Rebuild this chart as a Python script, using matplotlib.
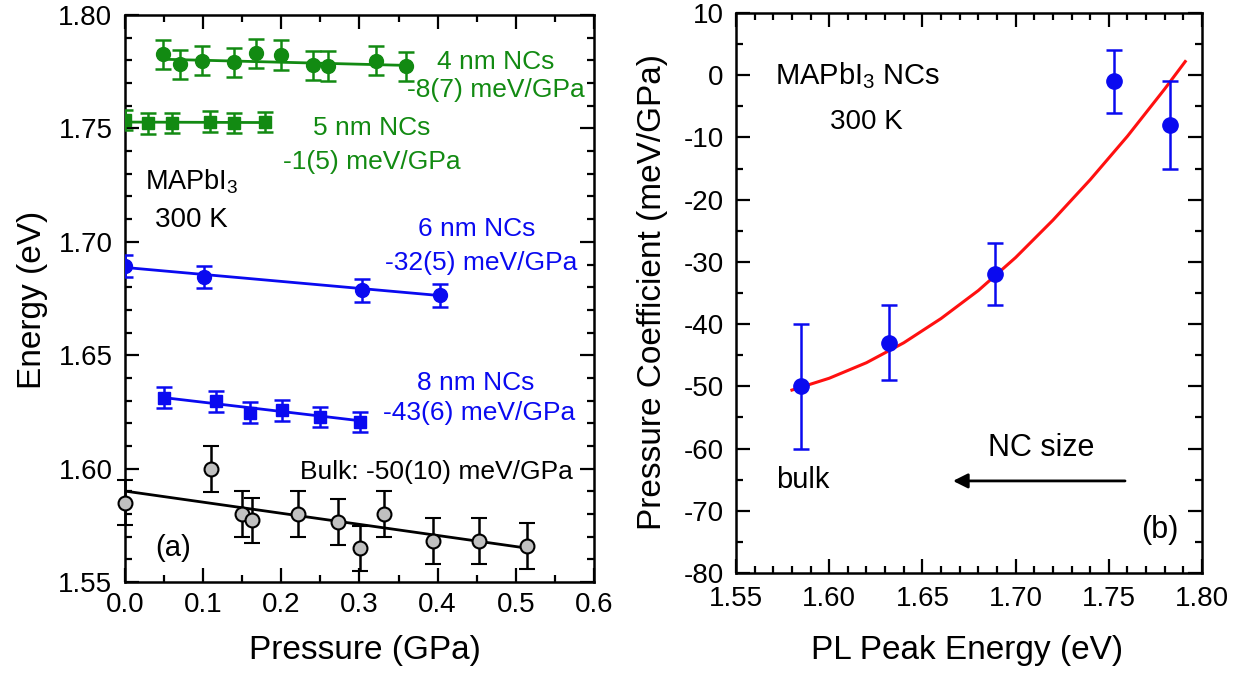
import numpy as np
import matplotlib
matplotlib.use("Agg")
import matplotlib.pyplot as plt
from matplotlib.ticker import MultipleLocator

plt.rcParams['font.family'] = ['Liberation Sans', 'DejaVu Sans']
plt.rcParams['mathtext.fontset'] = 'custom'
plt.rcParams['mathtext.rm'] = 'Liberation Sans'

GREEN = '#128a12'
BLUE = '#0a0af0'
RED = '#ff1010'

# ---- panel (a): PL energy vs pressure ----
p_4nm = [0.049, 0.070, 0.099, 0.140, 0.168, 0.200, 0.240, 0.260, 0.321, 0.359]
e_4nm = [1.7827, 1.7783, 1.7799, 1.7791, 1.7831, 1.7824, 1.7778, 1.7776, 1.7799, 1.7774]
err_4nm = [0.0065] * 10
fit_4nm_p = [0.049, 0.359]
fit_4nm_e = [1.7805, 1.7778]

p_5nm = [0.0, 0.030, 0.060, 0.109, 0.140, 0.179]
e_5nm = [1.7537, 1.7522, 1.7523, 1.7530, 1.7523, 1.7528]
err_5nm = [0.0045] * 6
fit_5nm_p = [0.0, 0.179]
fit_5nm_e = [1.7528, 1.7526]

p_6nm = [0.0, 0.101, 0.303, 0.403]
e_6nm = [1.6893, 1.6845, 1.6786, 1.6764]
err_6nm = [0.005] * 4
fit_6nm_p = [0.0, 0.403]
fit_6nm_e = [1.6887, 1.6763]

p_8nm = [0.050, 0.117, 0.160, 0.201, 0.250, 0.301]
e_8nm = [1.6313, 1.6296, 1.6247, 1.6257, 1.6228, 1.6206]
err_8nm = [0.0045] * 6
fit_8nm_p = [0.050, 0.301]
fit_8nm_e = [1.6313, 1.6211]

p_bulk = [0.0, 0.110, 0.150, 0.162, 0.221, 0.272, 0.301, 0.332, 0.394, 0.453, 0.515]
e_bulk = [1.5850, 1.5998, 1.5800, 1.5772, 1.5800, 1.5764, 1.5649, 1.5800, 1.5681, 1.5681, 1.5659]
err_bulk = [0.010] * 11
fit_bulk_p = [0.0, 0.515]
fit_bulk_e = [1.5901, 1.5649]

# ---- panel (b): pressure coefficient vs PL peak energy ----
pl_energy = [1.585, 1.632, 1.689, 1.753, 1.783]
coef = [-50, -43, -32, -1, -8]
coef_err = [10, 6, 5, 5, 7]
curve_e = [1.580, 1.600, 1.620, 1.640, 1.660, 1.680, 1.700, 1.720, 1.740, 1.760, 1.780, 1.791]
curve_c = [-50.6, -48.7, -46.2, -43.0, -39.1, -34.6, -29.3, -23.3, -16.8, -9.8, -2.2, 2.2]

fig = plt.figure(figsize=(12.42, 6.77), dpi=100)
ax1 = fig.add_axes([0.1006, 0.1403, 0.3776, 0.8375])
ax2 = fig.add_axes([0.5926, 0.1536, 0.3752, 0.8272])


def style(ax, xpad):
    for s in ax.spines.values():
        s.set_linewidth(1.8)
    ax.tick_params(which='both', direction='in', top=True, right=True,
                   labelsize=20, width=1.6)
    ax.tick_params(axis='y', pad=9)
    ax.tick_params(axis='x', pad=xpad)
    ax.tick_params(which='major', length=10)
    ax.tick_params(which='minor', length=5)


eb = dict(elinewidth=1.8, capthick=1.8, linestyle='none', zorder=3)

ax1.plot(fit_4nm_p, fit_4nm_e, color=GREEN, lw=2)
ax1.errorbar(p_4nm, e_4nm, yerr=err_4nm, fmt='o', ms=10, color=GREEN, capsize=6, **eb)
ax1.plot(fit_5nm_p, fit_5nm_e, color=GREEN, lw=2)
ax1.errorbar(p_5nm, e_5nm, yerr=err_5nm, fmt='s', ms=8, color=GREEN, capsize=6, **eb)
ax1.plot(fit_6nm_p, fit_6nm_e, color=BLUE, lw=2)
ax1.errorbar(p_6nm, e_6nm, yerr=err_6nm, fmt='o', ms=10, color=BLUE, capsize=6, **eb)
ax1.plot(fit_8nm_p, fit_8nm_e, color=BLUE, lw=2)
ax1.errorbar(p_8nm, e_8nm, yerr=err_8nm, fmt='s', ms=8, color=BLUE, capsize=6, **eb)
ax1.plot(fit_bulk_p, fit_bulk_e, color='black', lw=2)
ax1.errorbar(p_bulk, e_bulk, yerr=err_bulk, fmt='o', ms=10, color='black',
             mfc='#c0c0c0', mec='black', mew=1.5, capsize=6, clip_on=False, **eb)

ax1.set_xlim(0, 0.6)
ax1.set_ylim(1.55, 1.80)
ax1.xaxis.set_major_locator(MultipleLocator(0.1))
ax1.xaxis.set_minor_locator(MultipleLocator(0.05))
ax1.yaxis.set_major_locator(MultipleLocator(0.05))
ax1.yaxis.set_minor_locator(MultipleLocator(0.01))
ax1.xaxis.set_major_formatter(plt.FormatStrFormatter('%.1f'))
ax1.yaxis.set_major_formatter(plt.FormatStrFormatter('%.2f'))
style(ax1, 7)
ax1.set_xlabel('Pressure (GPa)', fontsize=24)
ax1.set_ylabel('Energy (eV)', fontsize=24)
ax1.xaxis.set_label_coords(0.512, -0.093)
ax1.yaxis.set_label_coords(-0.165, 0.497)

ax1.text(0.4746, 1.7793, '4 nm NCs', color=GREEN, fontsize=19, ha='center', va='center')
ax1.text(0.4746, 1.7669, '-8(7) meV/GPa', color=GREEN, fontsize=19, ha='center', va='center')
ax1.text(0.316, 1.7502, '5 nm NCs', color=GREEN, fontsize=19, ha='center', va='center')
ax1.text(0.316, 1.7352, '-1(5) meV/GPa', color=GREEN, fontsize=19, ha='center', va='center')
ax1.text(0.4503, 1.7056, '6 nm NCs', color=BLUE, fontsize=19, ha='center', va='center')
ax1.text(0.4554, 1.6907, '-32(5) meV/GPa', color=BLUE, fontsize=19, ha='center', va='center')
ax1.text(0.449, 1.6377, '8 nm NCs', color=BLUE, fontsize=19, ha='center', va='center')
ax1.text(0.4529, 1.6245, '-43(6) meV/GPa', color=BLUE, fontsize=19, ha='center', va='center')
ax1.text(0.398, 1.5985, 'Bulk: -50(10) meV/GPa', color='black', fontsize=19, ha='center', va='center')
ax1.text(0.0256, 1.7264, r'MAPbI$_3$', fontsize=19.5, ha='left', va='center')
ax1.text(0.0384, 1.7096, '300 K', fontsize=20, ha='left', va='center')
ax1.text(0.0614, 1.565, '(a)', fontsize=21, ha='center', va='center')

# panel (b)
ax2.plot(curve_e, curve_c, color=RED, lw=2.2, zorder=2)
ax2.errorbar(pl_energy, coef, yerr=coef_err, fmt='o', ms=11, color=BLUE,
             capsize=5.5, **eb)
ax2.set_xlim(1.55, 1.80)
ax2.set_ylim(-80, 10)
ax2.xaxis.set_major_locator(MultipleLocator(0.05))
ax2.xaxis.set_minor_locator(MultipleLocator(0.01))
ax2.yaxis.set_major_locator(MultipleLocator(10))
ax2.yaxis.set_minor_locator(MultipleLocator(5))
ax2.xaxis.set_major_formatter(plt.FormatStrFormatter('%.2f'))
ax2.yaxis.set_major_formatter(plt.FormatStrFormatter('%d'))
style(ax2, 9)
ax2.set_xlabel('PL Peak Energy (eV)', fontsize=24)
ax2.set_ylabel('Pressure Coefficient (meV/GPa)', fontsize=24)
ax2.xaxis.set_label_coords(0.496, -0.111)
ax2.yaxis.set_label_coords(-0.146, 0.502)

ax2.text(1.6155, 0.0, r'MAPbI$_3$ NCs', fontsize=21, ha='center', va='center')
ax2.text(1.6197, -7.5, '300 K', fontsize=20, ha='center', va='center')
ax2.text(1.586, -65, 'bulk', fontsize=21, ha='center', va='center')
ax2.text(1.7136, -59.9, 'NC size', fontsize=22, ha='center', va='center')
ax2.annotate('', xy=(1.6664, -65.2), xytext=(1.7587, -65.2),
             arrowprops=dict(arrowstyle='-|>', color='black', lw=2,
                             mutation_scale=22, shrinkA=0, shrinkB=0))
ax2.text(1.7775, -73.1, '(b)', fontsize=22, ha='center', va='center')

fig.savefig('out.png', dpi=100)
